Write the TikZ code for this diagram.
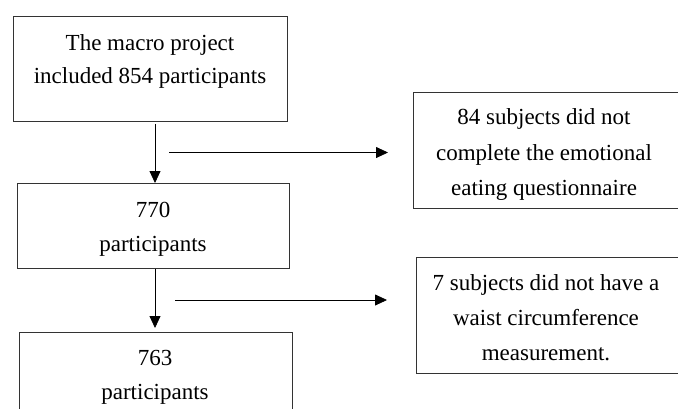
\documentclass[tikz,border=0pt]{standalone}
\usepackage{fontspec}
\setmainfont{Liberation Serif}
\usetikzlibrary{arrows.meta}
\begin{document}
\begin{tikzpicture}[x=1pt,y=-1pt,
  box/.style={draw=black!80,line width=0.9pt,anchor=north west,inner sep=0pt},
  txt/.style={anchor=base,inner sep=0pt,font=\fontsize{23}{27}\selectfont},
  arr/.style={draw=black,line width=0.8pt,-{Triangle[length=12pt,width=11pt]}}]
\useasboundingbox (0,0) rectangle (678,408);
\clip (0,0) rectangle (678,408);
% boxes
\node[box,minimum width=274pt,minimum height=105pt] (b1) at (13,16) {};
\node[box,minimum width=272pt,minimum height=85pt] (b2) at (17,183) {};
\node[box,minimum width=273pt,minimum height=100pt] (b3) at (19,332) {};
\node[box,minimum width=310pt,minimum height=116pt] (b4) at (413,92) {};
\node[box,minimum width=310pt,minimum height=116pt] (b5) at (416,257) {};
% texts
\node[txt] (t11) at (150,50) {The macro project};
\node[txt] (t12) at (150,83) {included 854 participants};
\node[txt] (t21) at (153,217) {770};
\node[txt] (t22) at (153,251) {participants};
\node[txt] (t31) at (155,365) {763};
\node[txt] (t32) at (155,399) {participants};
\node[txt] (t41) at (544,124) {84 subjects did not};
\node[txt] (t42) at (544,160) {complete the emotional};
\node[txt] (t43) at (544,195) {eating questionnaire};
\node[txt] (t51) at (546,290) {7 subjects did not have a};
\node[txt] (t52) at (546,325) {waist circumference};
\node[txt] (t53) at (546,360) {measurement.};
% connectors
\coordinate (v1) at (155,0);
\coordinate (v2) at (155,0);
\draw[arr,shorten <=2pt] (b1.south -| v1) -- (b2.north -| v1);
\draw[arr,shorten >=4pt] (b2.south -| v2) -- (b3.north -| v2);
\coordinate (h1s) at (169,152.5);
\coordinate (h1e) at (388,152.5);
\coordinate (h2s) at (175,300);
\coordinate (h2e) at (387,300);
\draw[arr] (h1s) -- (h1e);
\draw[arr] (h2s) -- (h2e);
\end{tikzpicture}
\end{document}
